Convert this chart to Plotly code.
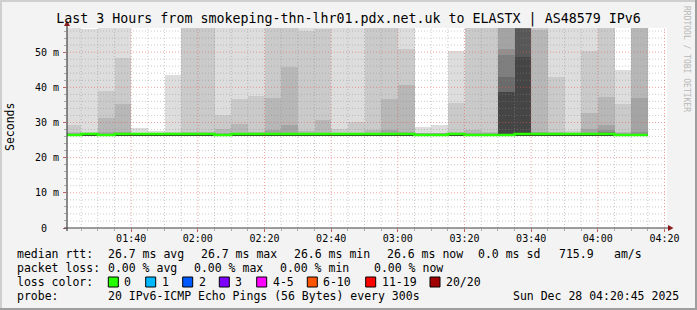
import plotly.graph_objects as go
from datetime import datetime, timedelta

# ---------------- data ----------------
# 5-minute smokeping columns (start times), 01:20 .. 04:10
column_starts = [(datetime(2025, 12, 28, 1, 20) + timedelta(minutes=5 * k)).strftime("%Y-%m-%d %H:%M:%S") for k in range(35)]
column_end = "2025-12-28 04:15:00"

median_rtt = [26.45, 26.75, 26.45, 26.75, 26.75, 26.75, 26.75, 26.75, 26.75, 26.45,
              26.75, 26.75, 26.75, 26.75, 26.75, 26.75, 26.75, 26.75, 26.75, 26.75,
              26.75, 26.45, 26.45, 26.75, 26.45, 26.45, 26.45, 26.75, 26.75, 26.75,
              26.75, 26.75, 26.75, 26.45, 26.45]

smoke_min = [26.4] * 35

# sorted ping values (ms), highest first; values above ~57 are off the chart
smoke_p20 = [60, 56.6, 60, 60, 28.4, 27.6, 43.6, 60, 60, 60,
             60, 60, 60, 60, 60, 60, 60, 60, 60, 60,
             60, 28.7, 29.2, 50.4, 60, 60, 60, 60, 60, 60,
             60, 60, 60, 44.9, 60]
smoke_p19 = [29.4, 27.3, 39.0, 48.4, 27.1, 27.0, 27.2, 60, 60, 32.0,
             36.7, 37.5, 60, 60, 56.1, 56.6, 28.1, 30.0, 60, 60,
             51.0, 27.0, 27.0, 35.6, 60, 60, 60, 60, 57.0, 43.0,
             27.6, 50.2, 60, 35.2, 60]
smoke_p18 = [27.2, 26.9, 31.4, 35.2, 26.9, 26.9, 26.9, 27.2, 27.2, 28.1,
             29.5, 27.2, 37.0, 45.9, 27.5, 30.7, 27.0, 27.1, 28.0, 36.7,
             40.7, 26.9, 26.9, 27.2, 27.8, 27.2, 60, 60, 56.3, 27.2,
             27.0, 32.7, 37.2, 27.2, 60]
smoke_p17 = [26.9, 26.9, 27.2, 27.3, 26.9, 26.9, 26.9, 26.9, 26.9, 27.0,
             27.1, 26.9, 27.8, 29.2, 27.0, 27.1, 26.9, 26.9, 27.0, 27.8,
             27.2, 26.9, 26.9, 26.9, 27.0, 26.9, 60, 60, 27.2, 26.9,
             26.9, 28.2, 29.2, 26.9, 37.0]
smoke_p16 = [26.8, 26.8, 26.8, 26.8, 26.8, 26.8, 26.8, 26.8, 26.8, 26.8,
             26.8, 26.8, 27.1, 27.1, 26.8, 26.8, 26.8, 26.8, 26.8, 27.0,
             26.8, 26.8, 26.8, 26.8, 26.8, 26.8, 50.9, 60, 26.8, 26.8,
             26.8, 27.1, 28.0, 26.8, 27.3]
smoke_p15 = [26.8] * 26 + [49.2, 60, 26.8, 26.8, 26.8, 26.8, 27.2, 26.8, 26.8]
smoke_p14 = [26.8] * 26 + [43.0, 60, 26.8, 26.8, 26.8, 26.8, 26.8, 26.8, 26.8]
smoke_p13 = [26.8] * 26 + [38.7, 56.5, 26.8, 26.8, 26.8, 26.8, 26.8, 26.8, 26.8]
smoke_p12 = [26.8] * 26 + [38.6, 48.7, 26.8, 26.8, 26.8, 26.8, 26.8, 26.8, 26.8]
smoke_p11 = [26.8] * 35

y_tick_values = [0, 10, 20, 30, 40, 50]
y_tick_labels = ["0\u00a0\u00a0", "10 m", "20 m", "30 m", "40 m", "50 m"]

title_text = "Last 3 Hours from smokeping-thn-lhr01.pdx.net.uk to ELASTX | AS48579 IPv6"
legend_rows = [
    [("median rtt:", 16), ("26.7 ms avg", 107.3), ("26.7 ms max", 200), ("26.6 ms min", 292.7),
     ("26.6 ms now", 386), ("0.0 ms sd", 477.3), ("715.9", 558.3), ("am/s", 613.3)],
    [("packet loss:", 16), ("0.00 % avg", 107.3), ("0.00 % max", 193.3), ("0.00 % min", 279.3),
     ("0.00 % now", 373.3)],
    [("loss color:", 16)],
    [("probe:", 16), ("20 IPv6-ICMP Echo Pings (56 Bytes) every 300s", 107.3)],
]
loss_labels = ["0", "1", "2", "3", "4-5", "6-10", "11-19", "20/20"]
loss_colors = ["#26ff00", "#00b8ff", "#0059ff", "#7e00ff", "#ff00ff", "#ff5500", "#ff0000", "#a10000"]
loss_box_x = [108.3, 145.7, 182.7, 219.3, 256.7, 307.3, 365.7, 430]
date_text = "Sun Dec 28 04:20:45 2025"

# ---------------- layout geometry ----------------
W, H = 697, 310
PL, PR, PT, PB = 67, 667, 28, 228
FONT = "DejaVu Sans Mono"


def xp(px):
    return (px - PL) / (PR - PL)


def yp(py):
    return (PB - py) / (PB - PT)


fig = go.Figure()

bands = [smoke_p20, smoke_p19, smoke_p18, smoke_p17, smoke_p16,
         smoke_p15, smoke_p14, smoke_p13, smoke_p12, smoke_p11]
for i, tops in enumerate(bands, start=1):
    g = int(190 / 10 * (10 - i)) + 50
    col = "#%02x%02x%02x" % (g, g, g)
    fig.add_trace(go.Bar(
        x=column_starts, y=[t - b for t, b in zip(tops, smoke_min)], base=smoke_min,
        width=300000, offset=0, marker=dict(color=col, line=dict(width=0)),
        hoverinfo="skip", showlegend=False))

fig.add_trace(go.Scatter(
    x=column_starts + [column_end], y=median_rtt + [median_rtt[-1]],
    mode="lines", line=dict(color="#26ff00", width=2.5, shape="hv"),
    hoverinfo="skip", showlegend=False))

shapes = []
# grid (drawn above the smoke, like rrdtool)
t0 = datetime(2025, 12, 28, 1, 25)
for k in range(36):
    t = t0 + timedelta(minutes=5 * k)
    major = t.minute % 20 == 0
    shapes.append(dict(type="line", xref="x", yref="paper", x0=t, x1=t, y0=0, y1=1, layer="above",
                       line=dict(color="rgba(230,90,90,0.55)" if major else "rgba(140,140,140,0.45)",
                                 width=1, dash="1px,2px")))
for v in range(2, 57, 2):
    major = v % 10 == 0
    shapes.append(dict(type="line", xref="paper", yref="y", x0=0, x1=1, y0=v, y1=v, layer="above",
                       line=dict(color="rgba(230,90,90,0.55)" if major else "rgba(140,140,140,0.45)",
                                 width=1, dash="1px,2px")))
# axes + arrows
axc = "#404040"
shapes.append(dict(type="line", xref="paper", yref="paper", x0=xp(64), x1=xp(669), y0=yp(228), y1=yp(228),
                   line=dict(color=axc, width=1.2), layer="above"))
shapes.append(dict(type="line", xref="paper", yref="paper", x0=xp(67), x1=xp(67), y0=yp(231), y1=yp(24),
                   line=dict(color=axc, width=1.2), layer="above"))
arrow_c = "#8b1a1a"
shapes.append(dict(type="path", xref="paper", yref="paper", layer="above",
                   path="M %f %f L %f %f L %f %f Z" % (xp(668), yp(225), xp(673.5), yp(228), xp(668), yp(231)),
                   fillcolor=arrow_c, line=dict(width=0)))
shapes.append(dict(type="path", xref="paper", yref="paper", layer="above",
                   path="M %f %f L %f %f L %f %f Z" % (xp(64), yp(26), xp(67), yp(20.5), xp(70), yp(26)),
                   fillcolor=arrow_c, line=dict(width=0)))
# 3D border
shapes.append(dict(type="line", xref="paper", yref="paper", x0=xp(0), x1=xp(697), y0=yp(1), y1=yp(1),
                   line=dict(color="#cfcfcf", width=2)))
shapes.append(dict(type="line", xref="paper", yref="paper", x0=xp(1), x1=xp(1), y0=yp(0), y1=yp(310),
                   line=dict(color="#cfcfcf", width=2)))
shapes.append(dict(type="line", xref="paper", yref="paper", x0=xp(0), x1=xp(697), y0=yp(309), y1=yp(309),
                   line=dict(color="#9e9e9e", width=2)))
shapes.append(dict(type="line", xref="paper", yref="paper", x0=xp(696), x1=xp(696), y0=yp(0), y1=yp(310),
                   line=dict(color="#9e9e9e", width=2)))

annotations = []
row_y = [254.3, 267.7, 282, 295.7]
LF = 11.5
for r, row in enumerate(legend_rows):
    for txt, px in row:
        annotations.append(dict(text=txt, xref="paper", yref="paper", x=xp(px - 1), y=yp(row_y[r]),
                                xanchor="left", yanchor="middle", showarrow=False,
                                font=dict(family=FONT, size=LF, color="#000")))
for lab, colr, bx in zip(loss_labels, loss_colors, loss_box_x):
    shapes.append(dict(type="rect", xref="paper", yref="paper", x0=xp(bx), x1=xp(bx + 10), y0=yp(277), y1=yp(287),
                       fillcolor=colr, line=dict(color="#000", width=1)))
    annotations.append(dict(text=lab, xref="paper", yref="paper", x=xp(bx + 14), y=yp(row_y[2]),
                            xanchor="left", yanchor="middle", showarrow=False,
                            font=dict(family=FONT, size=LF, color="#000")))
annotations.append(dict(text=date_text, xref="paper", yref="paper", x=xp(681), y=yp(row_y[3]),
                        xanchor="right", yanchor="middle", showarrow=False,
                        font=dict(family=FONT, size=LF, color="#000")))
annotations.append(dict(text="Seconds", xref="paper", yref="paper", x=xp(10), y=yp(127), textangle=-90,
                        xanchor="center", yanchor="middle", showarrow=False,
                        font=dict(family=FONT, size=11.5, color="#000")))
annotations.append(dict(text="RRDTOOL / TOBI OETIKER", xref="paper", yref="paper", x=xp(687), y=yp(59),
                        textangle=90, xanchor="center", yanchor="middle", showarrow=False,
                        font=dict(family=FONT, size=8, color="#b8b8b8")))

fig.update_layout(
    width=W, height=H,
    margin=dict(l=PL, r=W - PR, t=PT, b=H - PB, pad=0),
    paper_bgcolor="#f3f3f3", plot_bgcolor="#ffffff",
    barmode="overlay", bargap=0,
    showlegend=False,
    title=dict(text=title_text, x=0.5, xanchor="center", xref="container",
               y=1 - 18.5 / H, yanchor="middle", font=dict(family=FONT, size=13.3, color="#000")),
    xaxis=dict(type="date", range=["2025-12-28 01:20:45", "2025-12-28 04:20:45"],
               tickformat="%H:%M", dtick=1200000, tick0="2025-12-28 00:00:00",
               showgrid=False, zeroline=False, showline=False,
               ticks="outside", ticklen=3, tickcolor="#c06060", tickwidth=1, ticklabelstandoff=-2,
               minor=dict(dtick=300000, tick0="2025-12-28 00:00:00", ticks="outside", ticklen=2,
                          tickcolor="#aaaaaa", showgrid=False),
               tickfont=dict(family=FONT, size=10, color="#000")),
    yaxis=dict(range=[0, 56.86], tickvals=y_tick_values, ticktext=y_tick_labels,
               showgrid=False, zeroline=False, showline=False,
               ticks="outside", ticklen=3, tickcolor="#c06060", tickwidth=1, ticklabelstandoff=2,
               minor=dict(dtick=2, tick0=0, ticks="outside", ticklen=2, tickcolor="#aaaaaa", showgrid=False),
               tickfont=dict(family=FONT, size=10, color="#000")),
    shapes=shapes, annotations=annotations,
)

fig.write_html("out.html")
